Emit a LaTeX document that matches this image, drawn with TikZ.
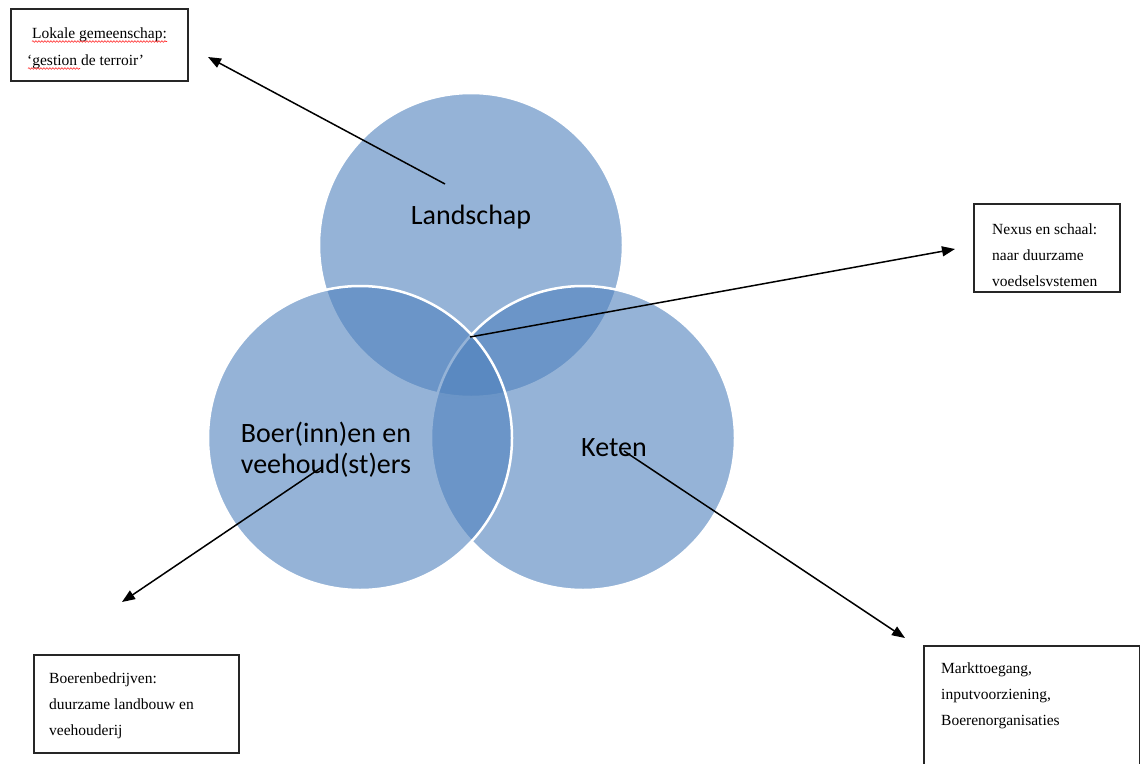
\documentclass[tikz,border=0pt]{standalone}
\usepackage{fontspec}
\setmainfont{Liberation Serif}
\newfontfamily\vennfont{Carlito}
\usetikzlibrary{arrows.meta,decorations.pathmorphing}
\definecolor{vennblue}{RGB}{79,129,189}
\tikzset{
  venn/.style={circle, minimum size=304pt, inner sep=0pt, outer sep=0pt,
    fill=vennblue, fill opacity=0.6, draw=white, draw opacity=1, line width=2.5pt},
  venntext/.style={font=\vennfont\fontsize{28}{31}\selectfont, text=black, inner sep=0pt, anchor=base},
  infobox/.style={draw=black!85, line width=1.6pt, fill=white, inner sep=0pt, anchor=north west},
  boxtext/.style={font=\fontsize{15.5}{26}\selectfont, text=black, inner sep=0pt, anchor=base west},
  pointer/.style={draw=black, line width=1.5pt, -{Triangle[length=13pt,width=10pt]}},
  spell/.style={draw=red!85, line width=0.6pt, decorate,
    decoration={snake, amplitude=0.8pt, segment length=3pt}}
}
\begin{document}
\begin{tikzpicture}[x=1pt,y=-1pt]
\useasboundingbox (0,0) rectangle (1140,763);
% circles
\node[venn] (land) at (471,245) {};
\node[venn] (keten) at (583,438) {};
\node[venn] (boer) at (360,438) {};
% circle labels
\node[venntext] (tland) at (471,224) {Landschap};
\node[venntext] (tboer1) at (326,442) {Boer(inn)en en};
\node[venntext] (tboer2) at (326,473) {veehoud(st)ers};
\node[venntext] (tketen) at (614,456) {Keten};
% boxes
\node[infobox, minimum width=177pt, minimum height=72pt] (b1) at (10,8) {};
\node[boxtext] (b1a) at (32,38) {Lokale gemeenschap:};
\node[boxtext] (b1b) at (27,65) {‘gestion de terroir’};
\draw[spell] (32,41.5) -- (167,41.5);
\draw[spell] (28,68.5) -- (80,68.5);
\node[infobox, minimum width=146pt, minimum height=88pt] (b2) at (973,203) {};
\node[boxtext] (b2a) at (992,234) {Nexus en schaal:};
\node[boxtext] (b2b) at (992,260) {naar duurzame};
\node[boxtext] (b2c) at (992,286) {voedselsvstemen};
\node[infobox, minimum width=205pt, minimum height=98pt] (b3) at (33,654) {};
\node[boxtext] (b3a) at (49,683) {Boerenbedrijven:};
\node[boxtext] (b3b) at (49,709) {duurzame landbouw en};
\node[boxtext] (b3c) at (49,735) {veehouderij};
\node[infobox, minimum width=216pt, minimum height=140pt] (b4) at (923,645) {};
\node[boxtext] (b4a) at (941,673) {Markttoegang,};
\node[boxtext] (b4b) at (941,699) {inputvoorziening,};
\node[boxtext] (b4c) at (941,725) {Boerenorganisaties};
% pointer ends
\coordinate (s1) at (445,184);
\coordinate (e1) at (208,57);
\coordinate (s2) at (470,337);
\coordinate (e2) at (955,249);
\coordinate (s3) at (322,467);
\coordinate (e3) at (122,602);
\coordinate (s4) at (624,451);
\coordinate (e4) at (905,638);
\draw[pointer] (s1) -- (e1);
\draw[pointer] (s2) -- (e2);
\draw[pointer] (s3) -- (e3);
\draw[pointer] (s4) -- (e4);
\end{tikzpicture}
\end{document}
